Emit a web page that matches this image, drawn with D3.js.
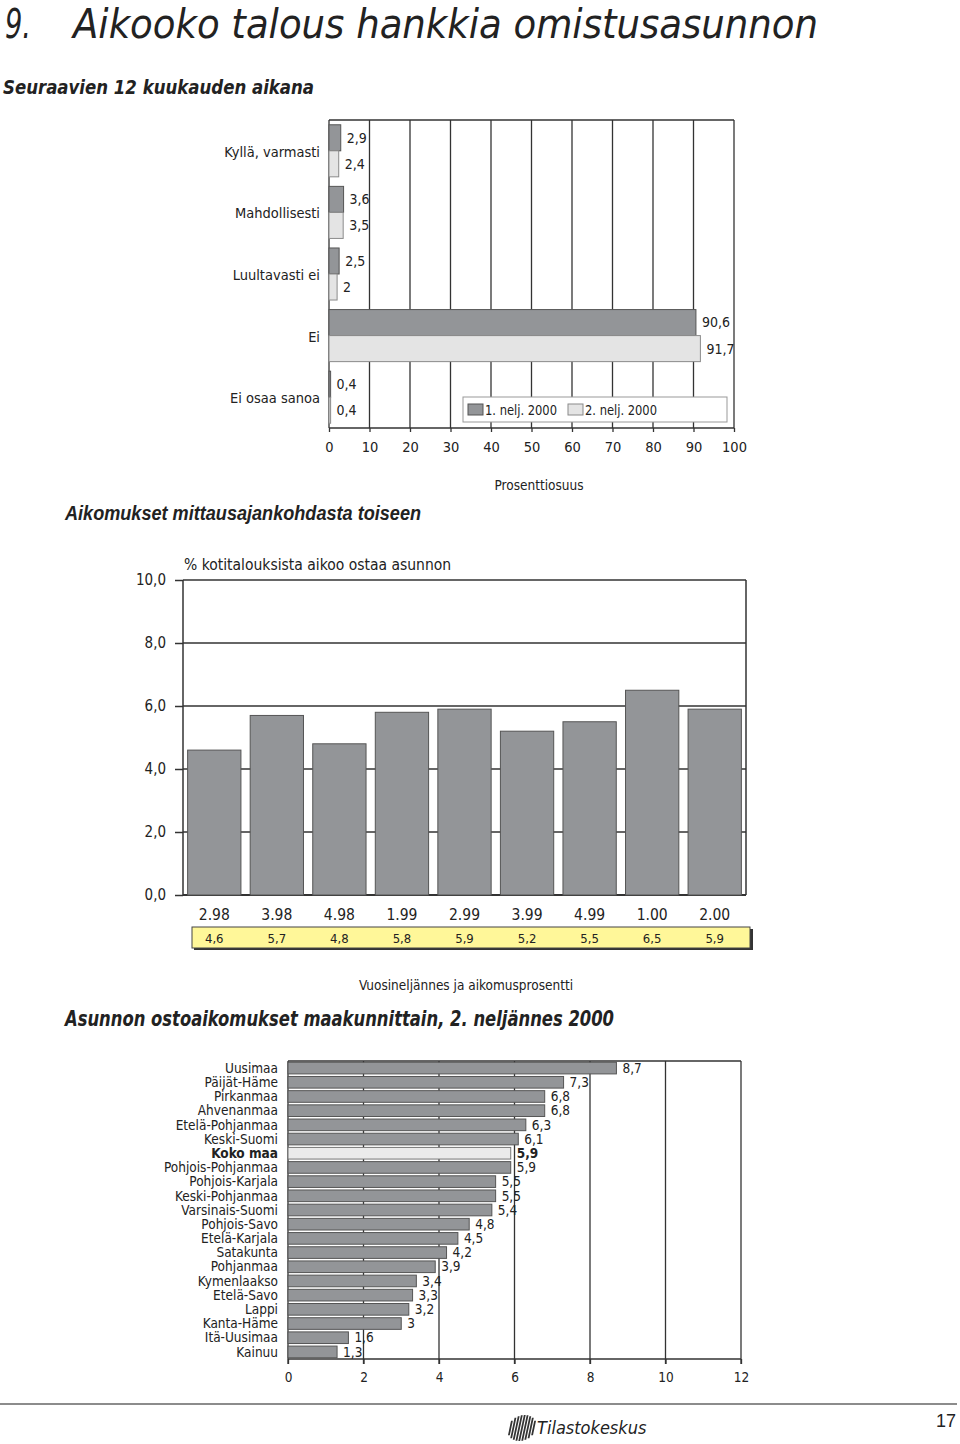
<!DOCTYPE html>
<html lang="fi">
<head>
<meta charset="UTF-8">
<title>Aikooko talous hankkia omistusasunnon</title>
<script src="https://d3js.org/d3.v7.min.js"></script>
<style>
    body { margin: 0; background: #fff; }
    svg text {
        font-family: "Liberation Sans Narrow", "Arial Narrow", "DejaVu Sans Condensed", sans-serif;
        fill: #222;
    }
    .head { font-weight: bold; font-style: italic; }
    .domain { display: none; }
</style>
</head>
<body>
<svg width="960" height="1444"></svg>
<script>
    // --- data ---
    const answerCats = ["Kyllä, varmasti", "Mahdollisesti", "Luultavasti ei", "Ei", "Ei osaa sanoa"];
    const q1Values = [2.9, 3.6, 2.5, 90.6, 0.4];
    const q2Values = [2.4, 3.5, 2, 91.7, 0.4];
    const seriesNames = ["1. nelj. 2000", "2. nelj. 2000"];
    const pctTicks = [0, 10, 20, 30, 40, 50, 60, 70, 80, 90, 100];

    const quarters = ["2.98", "3.98", "4.98", "1.99", "2.99", "3.99", "4.99", "1.00", "2.00"];
    const intentValues = [4.6, 5.7, 4.8, 5.8, 5.9, 5.2, 5.5, 6.5, 5.9];
    const intentTicks = [0, 2, 4, 6, 8, 10];

    const regions = ["Uusimaa", "Päijät-Häme", "Pirkanmaa", "Ahvenanmaa", "Etelä-Pohjanmaa",
        "Keski-Suomi", "Koko maa", "Pohjois-Pohjanmaa", "Pohjois-Karjala", "Keski-Pohjanmaa",
        "Varsinais-Suomi", "Pohjois-Savo", "Etelä-Karjala", "Satakunta", "Pohjanmaa",
        "Kymenlaakso", "Etelä-Savo", "Lappi", "Kanta-Häme", "Itä-Uusimaa", "Kainuu"];
    const regionValues = [8.7, 7.3, 6.8, 6.8, 6.3, 6.1, 5.9, 5.9, 5.5, 5.5, 5.4, 4.8, 4.5, 4.2, 3.9,
        3.4, 3.3, 3.2, 3, 1.6, 1.3];
    const regionTicks = [0, 2, 4, 6, 8, 10, 12];

    const comma = v => String(v).replace(".", ",");
    const comma1 = v => d3.format(".1f")(v).replace(".", ",");

    const darkFill = "#939598", darkStroke = "#555";
    const lightFill = "#e4e4e4", lightStroke = "#8a8a8a";
    const gridCol = "#333";

    const svg = d3.select("svg");

    // --- headings ---
    svg.append("text").attr("x", 5).attr("y", 38)
        .style("font-size", "40px").style("font-style", "italic")
        .attr("textLength", 26).attr("lengthAdjust", "spacingAndGlyphs")
        .text("9.");
    svg.append("text").attr("x", 73).attr("y", 38)
        .style("font-size", "40px").style("font-style", "italic")
        .attr("textLength", 745).attr("lengthAdjust", "spacingAndGlyphs")
        .text("Aikooko talous hankkia omistusasunnon");
    svg.append("text").attr("class", "head").attr("x", 3).attr("y", 94)
        .style("font-size", "20px")
        .attr("textLength", 311).attr("lengthAdjust", "spacingAndGlyphs")
        .text("Seuraavien 12 kuukauden aikana");

    // --- chart 1: horizontal grouped bars ---
    const x1 = d3.scaleLinear().domain([0, 100]).range([329, 734]);
    const y1 = d3.scaleBand().domain(answerCats).range([120, 428])
        .paddingInner(0.155).paddingOuter(0.0775);
    const ySub = d3.scaleBand().domain([0, 1]).range([0, y1.bandwidth()]);

    const g1 = svg.append("g");
    g1.selectAll("line.grid").data(pctTicks).enter().append("line")
        .attr("x1", d => x1(d)).attr("x2", d => x1(d))
        .attr("y1", 120).attr("y2", 428)
        .attr("stroke", gridCol).attr("stroke-width", 1.3);
    g1.append("line").attr("x1", x1(0)).attr("x2", x1(100)).attr("y1", 120).attr("y2", 120)
        .attr("stroke", gridCol).attr("stroke-width", 1.3);

    const rows1 = answerCats.map((c, i) => [
        { cat: c, s: 0, v: q1Values[i] },
        { cat: c, s: 1, v: q2Values[i] }
    ]).flat();

    g1.selectAll("rect.bar").data(rows1).enter().append("rect")
        .attr("x", x1(0))
        .attr("y", d => y1(d.cat) + ySub(d.s))
        .attr("width", d => x1(d.v) - x1(0))
        .attr("height", ySub.bandwidth())
        .attr("fill", d => d.s === 0 ? darkFill : lightFill)
        .attr("stroke", d => d.s === 0 ? darkStroke : lightStroke)
        .attr("stroke-width", 1);

    g1.selectAll("text.val").data(rows1).enter().append("text")
        .attr("x", d => x1(d.v) + 6)
        .attr("y", d => y1(d.cat) + ySub(d.s) + ySub.bandwidth() / 2)
        .attr("dy", "0.35em")
        .style("font-size", "14px")
        .text(d => comma(d.v));

    g1.selectAll("text.cat").data(answerCats).enter().append("text")
        .attr("x", 320).attr("y", d => y1(d) + y1.bandwidth() / 2 + 1)
        .attr("dy", "0.35em").attr("text-anchor", "end")
        .style("font-size", "14.5px")
        .text(d => d);

    const ax1 = g1.append("g").attr("transform", "translate(0,428)")
        .call(d3.axisBottom(x1).tickValues(pctTicks).tickSize(4).tickFormat(d => d));
    ax1.selectAll("line").attr("stroke", gridCol).attr("stroke-width", 1.3);
    ax1.selectAll("text").attr("y", 19).attr("dy", "0.35em")
        .style("font-size", "14.5px").style("font-family", null).attr("fill", "#222");
    g1.append("line").attr("x1", x1(0)).attr("x2", x1(100)).attr("y1", 428).attr("y2", 428)
        .attr("stroke", gridCol).attr("stroke-width", 1.5);

    // legend
    const leg = g1.append("g").attr("transform", "translate(463,397)");
    leg.append("rect").attr("width", 264).attr("height", 25)
        .attr("fill", "#fff").attr("stroke", "#999");
    seriesNames.forEach((n, i) => {
        const lx = 5 + i * 100;
        leg.append("rect").attr("x", lx).attr("y", 7).attr("width", 15).attr("height", 11)
            .attr("fill", i === 0 ? darkFill : lightFill)
            .attr("stroke", i === 0 ? darkStroke : lightStroke);
        leg.append("text").attr("x", lx + 17).attr("y", 13).attr("dy", "0.35em")
            .style("font-size", "14px")
            .attr("textLength", 72).attr("lengthAdjust", "spacingAndGlyphs")
            .text(n);
    });

    svg.append("text").attr("x", 539).attr("y", 485).attr("dy", "0.35em")
        .attr("text-anchor", "middle").style("font-size", "13.5px")
        .text("Prosenttiosuus");

    // --- chart 2: vertical bars over time ---
    svg.append("text").attr("class", "head").attr("x", 65).attr("y", 520)
        .style("font-size", "20px").style("font-family", "'Liberation Sans', Arial, sans-serif")
        .attr("textLength", 356).attr("lengthAdjust", "spacingAndGlyphs")
        .text("Aikomukset mittausajankohdasta toiseen");

    const x2 = d3.scaleBand().domain(quarters).range([183, 746])
        .paddingInner(0.148).paddingOuter(0.074);
    const y2 = d3.scaleLinear().domain([0, 10]).range([895, 580]);

    const g2 = svg.append("g");
    const ax2 = g2.append("g").attr("transform", "translate(183,0)")
        .call(d3.axisLeft(y2).tickValues(intentTicks).tickSize(8).tickPadding(9).tickFormat(comma1));
    ax2.selectAll("line").attr("stroke", gridCol).attr("stroke-width", 1.5);
    ax2.selectAll("text").style("font-size", "15px").style("font-family", null).attr("fill", "#222");

    g2.selectAll("line.grid").data(intentTicks).enter().append("line")
        .attr("x1", 183).attr("x2", 746)
        .attr("y1", d => y2(d)).attr("y2", d => y2(d))
        .attr("stroke", gridCol).attr("stroke-width", d => d === 0 ? 2 : 1.5);
    g2.append("line").attr("x1", 183).attr("x2", 183).attr("y1", y2(10)).attr("y2", y2(0))
        .attr("stroke", gridCol).attr("stroke-width", 1.5);
    g2.append("line").attr("x1", 746).attr("x2", 746).attr("y1", y2(10)).attr("y2", y2(0))
        .attr("stroke", gridCol).attr("stroke-width", 1.5);

    g2.selectAll("rect.bar").data(quarters).enter().append("rect")
        .attr("x", d => x2(d))
        .attr("y", (d, i) => y2(intentValues[i]))
        .attr("width", x2.bandwidth())
        .attr("height", (d, i) => y2(0) - y2(intentValues[i]))
        .attr("fill", darkFill).attr("stroke", darkStroke).attr("stroke-width", 1);

    g2.append("text").attr("x", 184).attr("y", 565).attr("dy", "0.35em")
        .style("font-size", "15.5px").text("% kotitalouksista aikoo ostaa asunnon");

    const ax2b = g2.append("g").attr("transform", "translate(0,895)")
        .call(d3.axisBottom(x2).tickSize(0));
    ax2b.selectAll("text").attr("y", 20).attr("dy", "0.35em")
        .style("font-size", "15.5px").style("font-family", null).attr("fill", "#222");

    // yellow value strip
    g2.append("rect").attr("x", 194).attr("y", 929).attr("width", 559).attr("height", 21)
        .attr("fill", "#333");
    g2.append("rect").attr("x", 192).attr("y", 927).attr("width", 558).attr("height", 21)
        .attr("fill", "#fff799").attr("stroke", "#444").attr("stroke-width", 1);
    g2.selectAll("text.iv").data(quarters).enter().append("text")
        .attr("x", d => x2(d) + x2.bandwidth() / 2).attr("y", 938).attr("dy", "0.35em")
        .attr("text-anchor", "middle").style("font-size", "13px")
        .text((d, i) => comma(intentValues[i]));

    svg.append("text").attr("x", 466).attr("y", 985).attr("dy", "0.35em")
        .attr("text-anchor", "middle").style("font-size", "13.5px")
        .text("Vuosineljännes ja aikomusprosentti");

    // --- chart 3: regions ---
    svg.append("text").attr("class", "head").attr("x", 65).attr("y", 1026)
        .style("font-size", "21px")
        .attr("textLength", 549).attr("lengthAdjust", "spacingAndGlyphs")
        .text("Asunnon ostoaikomukset maakunnittain, 2. neljännes 2000");

    const x3 = d3.scaleLinear().domain([0, 12]).range([288, 741]);
    const y3 = d3.scaleBand().domain(regions).range([1061, 1359])
        .paddingInner(0.18).paddingOuter(0.09);

    const g3 = svg.append("g");
    g3.selectAll("line.grid").data(regionTicks).enter().append("line")
        .attr("x1", d => x3(d)).attr("x2", d => x3(d))
        .attr("y1", 1061).attr("y2", 1364)
        .attr("stroke", gridCol).attr("stroke-width", 1.3);
    g3.append("line").attr("x1", x3(0)).attr("x2", x3(12)).attr("y1", 1061).attr("y2", 1061)
        .attr("stroke", gridCol).attr("stroke-width", 1.3);
    g3.append("line").attr("x1", x3(0)).attr("x2", x3(12)).attr("y1", 1359).attr("y2", 1359)
        .attr("stroke", gridCol).attr("stroke-width", 1.5);

    g3.selectAll("rect.bar").data(regions).enter().append("rect")
        .attr("x", x3(0))
        .attr("y", d => y3(d))
        .attr("width", (d, i) => x3(regionValues[i]) - x3(0))
        .attr("height", y3.bandwidth())
        .attr("fill", d => d === "Koko maa" ? "#ebebeb" : darkFill)
        .attr("stroke", d => d === "Koko maa" ? "#777" : darkStroke)
        .attr("stroke-width", 1);

    g3.selectAll("text.val").data(regions).enter().append("text")
        .attr("x", (d, i) => x3(regionValues[i]) + 6)
        .attr("y", d => y3(d) + y3.bandwidth() / 2).attr("dy", "0.35em")
        .style("font-size", "13.5px")
        .style("font-weight", d => d === "Koko maa" ? "bold" : null)
        .text((d, i) => comma(regionValues[i]));

    g3.selectAll("text.cat").data(regions).enter().append("text")
        .attr("x", 278).attr("y", d => y3(d) + y3.bandwidth() / 2).attr("dy", "0.35em")
        .attr("text-anchor", "end").style("font-size", "13.5px")
        .style("font-weight", d => d === "Koko maa" ? "bold" : null)
        .text(d => d);

    const ax3 = g3.append("g").attr("transform", "translate(0,1359)")
        .call(d3.axisBottom(x3).tickValues(regionTicks).tickSize(5).tickFormat(d => d));
    ax3.selectAll("line").attr("stroke", gridCol).attr("stroke-width", 1.3);
    ax3.selectAll("text").attr("y", 18).attr("dy", "0.35em")
        .style("font-size", "13.5px").style("font-family", null).attr("fill", "#222");

    // --- footer ---
    svg.append("line").attr("x1", 0).attr("x2", 957).attr("y1", 1404).attr("y2", 1404)
        .attr("stroke", "#666").attr("stroke-width", 1.5);
    const logo = svg.append("g").attr("transform", "translate(522,1428) skewX(-12)");
    d3.range(9).forEach(i => {
        const dx = (i - 4) * 2.9;
        const h = Math.sqrt(Math.max(0, 1 - Math.pow((i - 4) / 4.8, 2))) * 13;
        logo.append("rect").attr("x", dx - 0.9).attr("y", -h).attr("width", 1.8).attr("height", 2 * h)
            .attr("fill", "#333");
    });
    svg.append("text").attr("x", 537).attr("y", 1434)
        .style("font-size", "18px").style("font-style", "italic")
        .text("Tilastokeskus");
    svg.append("text").attr("x", 956).attr("y", 1427).attr("text-anchor", "end")
        .style("font-size", "18px").style("font-family", "'Liberation Sans', Arial, sans-serif")
        .text("17");
</script>
</body>
</html>
